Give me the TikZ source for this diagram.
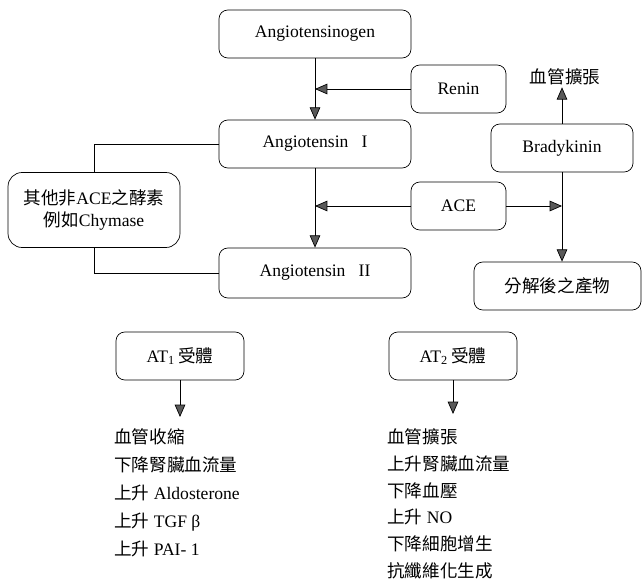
\documentclass[tikz,border=0pt]{standalone}
\usepackage{fontspec}
\setmainfont{Liberation Serif}
\newfontfamily\cjk{Noto Sans CJK TC}
\usepackage{tikz}
\usetikzlibrary{arrows.meta,positioning,calc}

\begin{document}
\begin{tikzpicture}[
    x=0.02cm, y=-0.02cm,
    font=\fontsize{10}{12}\selectfont,
    box/.style = {draw, rounded corners=5pt, minimum height=0.96cm, thin},
    arr/.style = {thin, -{Triangle[length=7pt, width=6pt, fill=black!65]}},
    lst/.style = {anchor=north west, align=left, inner sep=0pt}
]
    \useasboundingbox (0,0) rectangle (644,584);

    \node[box, minimum width=3.84cm] (agen) at (315,34) {Angiotensinogen};
    \node[box, minimum width=1.9cm] (renin) at (458.5,89) {Renin};
    \node[box, minimum width=3.84cm] (ang1) at (315,144) {Angiotensin \ \ I};
    \node[box, minimum width=1.9cm] (ace) at (458.5,206) {ACE};
    \node[box, minimum width=3.84cm, minimum height=1cm] (ang2) at (315,273) {Angiotensin \ \ II};
    \node[box, minimum width=3.44cm, minimum height=1.5cm, rounded corners=8pt, align=center] (other) at (94,210)
        {{\cjk 其他非}ACE{\cjk 之酵素}\\[1pt]{\cjk 例如}Chymase};
    \node[box, minimum width=2.84cm] (brady) at (562,148) {Bradykinin};
    \node[box, minimum width=3.34cm] (prod) at (557.5,286) {\cjk 分解後之產物};
    \node[inner sep=1pt] (dil) at (565,77) {\cjk 血管擴張};

    % renin-angiotensin chain
    \coordinate (reninjoin) at (agen.south |- renin.west);
    \coordinate (acejoin) at (ang1.south |- ace.west);
    \coordinate (bkjoin) at (brady.south |- ace.east);
    \draw[arr] (agen) -- (ang1);
    \draw[arr] (renin) -- (reninjoin);
    \draw[arr] (ang1) -- (ang2);
    \draw[arr] (ace) -- (acejoin);
    \draw[arr] (ace) -- (bkjoin);
    \draw[thin] (ang1.west) -| (other.north);
    \draw[thin] (ang2.west) -| (other.south);

    % bradykinin
    \draw[arr] (brady.north) -- (brady.north |- dil.south);
    \draw[arr] (brady.south) -- (brady.south |- prod.north);

    % receptors
    \node[box, minimum width=2.56cm] (at1) at (180,356) {AT\textsubscript{1}\,{\cjk 受體}};
    \node[box, minimum width=2.56cm] (at2) at (453,356) {AT\textsubscript{2}\,{\cjk 受體}};
    \coordinate (at1end) at (180,417);
    \coordinate (at2end) at (453,414);
    \draw[arr] (at1) -- (at1end);
    \draw[arr] (at2) -- (at2end);

    \node[lst, font=\fontsize{10}{15.9}\selectfont] (at1list) at (114,428)
        {{\cjk 血管收縮}\\{\cjk 下降腎臟血流量}\\{\cjk 上升} Aldosterone\\{\cjk 上升} TGF β\\{\cjk 上升} PAI- 1};
    \node[lst, font=\fontsize{10}{15.3}\selectfont] (at2list) at (387,428)
        {{\cjk 血管擴張}\\{\cjk 上升腎臟血流量}\\{\cjk 下降血壓}\\{\cjk 上升} NO\\{\cjk 下降細胞增生}\\{\cjk 抗纖維化生成}};
\end{tikzpicture}
\end{document}
